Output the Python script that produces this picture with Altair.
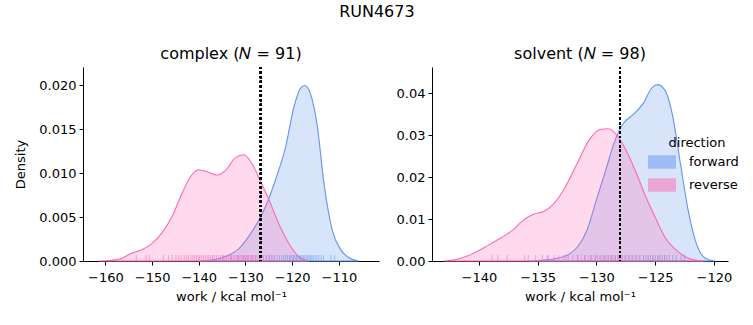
import altair as alt
import pandas as pd

directions = ["forward", "reverse"]
colors = ["#6495ED", "#FF69B4"]

# --- complex panel: KDE curves ---
cx_fwd_x = [-140.0, -137.1, -134.3, -131.4, -129.3, -127.1, -125.7, -123.6, -121.4, -119.6, -118.2, -117.3, -116.1, -114.6, -113.2, -111.4, -109.6, -107.9, -105.7]
cx_fwd_y = [0.0, 0.0001, 0.0005, 0.0014, 0.0028, 0.0047, 0.0062, 0.0092, 0.0130, 0.0176, 0.0197, 0.0200, 0.0191, 0.0153, 0.0089, 0.0035, 0.0013, 0.0004, 0.0]
cx_rev_x = [-161.4, -157.1, -154.3, -152.1, -150.0, -147.9, -145.7, -143.6, -141.8, -140.0, -137.9, -136.1, -134.3, -132.1, -130.4, -128.6, -126.7, -125.0, -122.9, -120.7, -118.6, -116.4]
cx_rev_y = [0.0, 0.0002, 0.0009, 0.0013, 0.0020, 0.0032, 0.0051, 0.0077, 0.0096, 0.0104, 0.0101, 0.0098, 0.0103, 0.0118, 0.0121, 0.0111, 0.0090, 0.0070, 0.0043, 0.0020, 0.0005, 0.0]

# --- solvent panel ---
sv_fwd_x = [-135.7, -134.5, -133.4, -132.3, -131.6, -130.8, -130.0, -129.2, -128.4, -127.7, -126.9, -126.0, -125.3, -124.8, -124.2, -123.5, -122.9, -122.2, -121.5, -120.7, -119.9]
sv_fwd_y = [0.0, 0.0002, 0.0006, 0.0017, 0.0034, 0.0074, 0.0146, 0.0217, 0.0289, 0.0328, 0.0348, 0.0376, 0.0412, 0.0420, 0.0408, 0.0344, 0.0241, 0.0122, 0.0042, 0.0006, 0.0]
sv_rev_x = [-143.0, -141.6, -140.5, -139.3, -138.2, -137.1, -136.2, -135.4, -134.5, -133.7, -132.8, -131.7, -130.6, -129.7, -129.0, -128.3, -127.5, -126.6, -125.8, -124.9, -124.1, -123.2, -122.1, -120.9]
sv_rev_y = [0.0, 0.0006, 0.0018, 0.0036, 0.0054, 0.0074, 0.0098, 0.0111, 0.0118, 0.0134, 0.0169, 0.0229, 0.0289, 0.0313, 0.0315, 0.0301, 0.0265, 0.0209, 0.0153, 0.0098, 0.0054, 0.0026, 0.0006, 0.0]

# --- rug values ---
cx_fwd_rug = [-137.0, -134.8, -133.1, -131.6, -130.4, -129.5, -128.6, -127.8, -127.0, -126.3, -125.6, -125.0, -124.4, -123.8, -123.2, -122.7, -122.2, -121.8, -121.4, -121.0, -120.6, -120.3, -120.0, -119.7, -119.4, -119.1, -118.8, -118.5, -118.2, -117.9, -117.6, -117.3, -117.0, -116.7, -116.4, -116.1, -115.8, -115.5, -115.1, -114.7, -114.3, -113.8, -113.3, -111.7, -110.9]
cx_rev_rug = [-153.4, -151.3, -150.6, -147.6, -146.5, -145.7, -144.9, -144.3, -143.8, -143.1, -142.6, -142.2, -141.7, -141.3, -140.9, -140.5, -140.1, -139.8, -139.4, -139.0, -138.6, -138.2, -137.9, -137.5, -137.1, -136.6, -136.2, -135.7, -135.3, -134.9, -134.4, -134.0, -133.6, -133.2, -132.9, -132.5, -132.2, -131.8, -131.5, -131.2, -130.9, -130.6, -130.3, -130.0, -129.7, -129.4, -129.0, -128.7, -128.3, -127.9, -127.4, -126.8, -126.2, -125.5, -124.8, -124.1]
sv_fwd_rug = [-134.2, -132.6, -131.6, -131.0, -130.5, -130.1, -129.7, -129.3, -129.0, -128.7, -128.4, -128.1, -127.8, -127.5, -127.2, -126.9, -126.6, -126.3, -126.0, -125.8, -125.6, -125.4, -125.2, -125.0, -124.8, -124.6, -124.4, -124.2, -124.0, -123.8, -123.5, -123.2, -122.8, -122.5]
sv_rev_rug = [-138.9, -138.4, -137.6, -136.1, -135.8, -135.2, -134.6, -134.1, -133.6, -133.2, -132.8, -132.4, -132.0, -131.6, -131.3, -131.0, -130.7, -130.4, -130.1, -129.9, -129.6, -129.4, -129.2, -129.0, -128.8, -128.6, -128.4, -128.2, -128.0, -127.8, -127.6, -127.3, -127.0, -126.7, -126.4, -126.0, -125.6, -125.2, -124.7, -124.2]

cx_vline = -126.7
sv_vline = -128.0

cx_xticks = [-160, -150, -140, -130, -120, -110]
sv_xticks = [-140, -135, -130, -125, -120]
cx_yticks = [0.0, 0.005, 0.010, 0.015, 0.020]
sv_yticks = [0.0, 0.01, 0.02, 0.03, 0.04]

W, H = 296, 194
FONT = "DejaVu Sans"


def dens_frame(fx, fy, rx, ry):
    rows = [{"work": a, "density": b, "direction": "forward"} for a, b in zip(fx, fy)]
    rows += [{"work": a, "density": b, "direction": "reverse"} for a, b in zip(rx, ry)]
    return pd.DataFrame(rows)


def rug_frame(f, r):
    rows = [{"work": a, "direction": "forward"} for a in f]
    rows += [{"work": a, "direction": "reverse"} for a in r]
    return pd.DataFrame(rows)


cscale = alt.Scale(domain=directions, range=colors)
legend = alt.Legend(
    title="direction", orient="none", legendX=572, legendY=70, padding=0,
    symbolType="M-2.2,-1H2.2V1H-2.2Z", symbolSize=144, symbolStrokeWidth=1.6,
    symbolOpacity=0.5,
    labelOffset=20, labelFontSize=13, titleFontSize=13, titleFontWeight="normal",
    titleAnchor="middle", rowPadding=3, titlePadding=5, labelFont=FONT, titleFont=FONT,
)


def panel(title, dens, rug, vline, xdom, xticks, ydom, yticks, yfmt, ytitle):
    xenc = alt.X("work:Q", scale=alt.Scale(domain=xdom, nice=False, zero=False),
                 axis=alt.Axis(values=xticks, format="d", title="work / kcal mol⁻¹",
                               labelPadding=6, titlePadding=6))
    if ytitle:
        yaxis = alt.Axis(values=yticks, format=yfmt, title=ytitle, titlePadding=11)
    else:
        yaxis = alt.Axis(values=yticks, format=yfmt, title=None)
    area = alt.Chart(dens).mark_area(interpolate="monotone", fillOpacity=0.25, strokeOpacity=1, strokeWidth=1.1).encode(
        x=xenc,
        y=alt.Y("density:Q", stack=None, scale=alt.Scale(domain=ydom, nice=False), axis=yaxis),
        fill=alt.Fill("direction:N", scale=cscale, legend=legend),
        stroke=alt.Stroke("direction:N", scale=cscale, legend=legend),
    )
    rugs = alt.Chart(rug).mark_rule(strokeWidth=1, opacity=0.55).encode(
        x="work:Q",
        y=alt.value(H - 6), y2=alt.value(H),
        stroke=alt.Stroke("direction:N", scale=cscale, legend=legend),
    )
    vl = alt.Chart(rug).mark_rule(color="black", strokeDash=[2, 2.6], strokeWidth=1.8).encode(
        x=alt.datum(vline)
    )
    return alt.layer(area, rugs, vl).properties(
        width=W, height=H,
        title=alt.TitleParams(title, fontSize=16, fontWeight="normal", font=FONT, offset=4),
    )


left = panel("complex (𝑁 = 91)", dens_frame(cx_fwd_x, cx_fwd_y, cx_rev_x, cx_rev_y),
             rug_frame(cx_fwd_rug, cx_rev_rug), cx_vline, [-164.8, -101.4], cx_xticks,
             [0, 0.0221], cx_yticks, ".3f", "Density")
right = panel("solvent (𝑁 = 98)", dens_frame(sv_fwd_x, sv_fwd_y, sv_rev_x, sv_rev_y),
              rug_frame(sv_fwd_rug, sv_rev_rug), sv_vline, [-144.0, -118.8], sv_xticks,
              [0, 0.0462], sv_yticks, ".2f", None)

chart = alt.hconcat(left, right, spacing=17).properties(
    title=alt.TitleParams("RUN4673", fontSize=16, fontWeight="normal", font=FONT, anchor="middle", offset=26),
    padding={"left": 14, "top": 4, "right": 5, "bottom": 5},
).configure_view(stroke=None).configure_axis(
    domainColor="black", tickColor="black", labelColor="black", titleColor="black",
    grid=False, labelFont=FONT, titleFont=FONT, labelFontSize=13, titleFontSize=13,
    titleFontWeight="normal", tickSize=4, labelPadding=3, domainWidth=1,
).configure_legend(labelColor="black", titleColor="black")

chart.save("out.html", embed_options={"renderer": "svg", "actions": False})
